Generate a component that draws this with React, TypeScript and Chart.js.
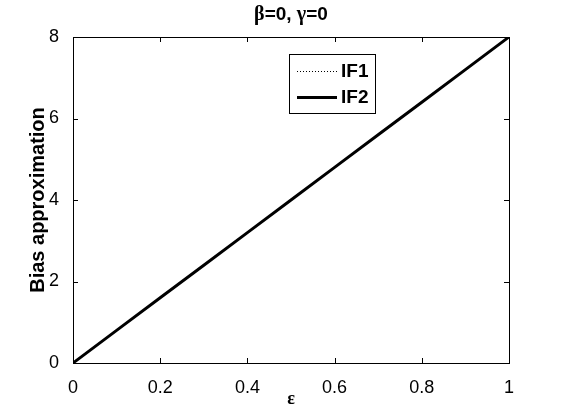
import { useEffect, useRef } from "react";
import { Chart, registerables } from "chart.js";
Chart.register(...registerables);

const epsilon = [0, 0.1, 0.2, 0.3, 0.4, 0.5, 0.6, 0.7, 0.8, 0.9, 1];
const if1 = [0, 0.8, 1.6, 2.4, 3.2, 4.0, 4.8, 5.6, 6.4, 7.2, 8.0];
const if2 = [0, 0.8, 1.6, 2.4, 3.2, 4.0, 4.8, 5.6, 6.4, 7.2, 8.0];
const xTicks = [0, 0.2, 0.4, 0.6, 0.8, 1];
const yTicks = [0, 2, 4, 6, 8];
const seriesNames = ["IF1", "IF2"];
const titleParts = [
  { t: "\u03b2", serif: true },
  { t: "=0, ", serif: false },
  { t: "\u03b3", serif: true },
  { t: "=0", serif: false },
];
const xTitle = "\u03b5";
const yTitle = "Bias approximation";

const SANS = "'Liberation Sans', Arial, sans-serif";
const SERIF = "'Liberation Serif', 'Times New Roman', serif";

const decorPlugin = {
  id: "decor",
  afterDraw(chart: any) {
    const { ctx, chartArea: a } = chart;
    const xs = chart.scales.x;
    const ys = chart.scales.y;
    ctx.save();
    ctx.strokeStyle = "#000";
    ctx.lineWidth = 1;
    // box
    ctx.strokeRect(Math.round(a.left) + 0.5, Math.round(a.top) + 0.5, Math.round(a.right - a.left), Math.round(a.bottom - a.top));
    // ticks
    const tl = 5;
    ctx.beginPath();
    xTicks.forEach((v) => {
      const px = Math.round(xs.getPixelForValue(v)) + 0.5;
      ctx.moveTo(px, a.bottom);
      ctx.lineTo(px, a.bottom - tl);
      ctx.moveTo(px, a.top);
      ctx.lineTo(px, a.top + tl);
    });
    yTicks.forEach((v) => {
      const py = Math.round(ys.getPixelForValue(v)) + 0.5;
      ctx.moveTo(a.left, py);
      ctx.lineTo(a.left + tl, py);
      ctx.moveTo(a.right, py);
      ctx.lineTo(a.right - tl, py);
    });
    ctx.stroke();

    // title
    const tFontSans = `bold 19px ${SANS}`;
    const tFontSerif = `bold 20px ${SERIF}`;
    let total = 0;
    titleParts.forEach((p) => {
      ctx.font = p.serif ? tFontSerif : tFontSans;
      total += ctx.measureText(p.t).width;
    });
    let tx = (a.left + a.right) / 2 - total / 2;
    ctx.fillStyle = "#000";
    ctx.textBaseline = "alphabetic";
    ctx.textAlign = "left";
    titleParts.forEach((p) => {
      ctx.font = p.serif ? tFontSerif : tFontSans;
      ctx.fillText(p.t, tx, 20);
      tx += ctx.measureText(p.t).width;
    });

    // legend
    const lx = 289.5, ly = 54.5, lw = 86, lh = 59;
    ctx.fillStyle = "#fff";
    ctx.fillRect(lx, ly, lw, lh);
    ctx.strokeRect(lx, ly, lw, lh);
    const rows = [71, 97];
    chart.data.datasets.forEach((ds: any, i: number) => {
      const y = rows[i];
      ctx.beginPath();
      ctx.strokeStyle = "#000";
      ctx.lineWidth = ds.borderWidth;
      ctx.setLineDash(ds.borderDash || []);
      ctx.moveTo(297, y + 0.5);
      ctx.lineTo(337, y + 0.5);
      ctx.stroke();
      ctx.setLineDash([]);
      ctx.fillStyle = "#000";
      ctx.font = `bold 19px ${SANS}`;
      ctx.textBaseline = "middle";
      ctx.fillText(ds.label, 341, y + 1);
    });
    ctx.restore();
  },
};

export default function App() {
  const ref = useRef<HTMLCanvasElement | null>(null);
  useEffect(() => {
    if (!ref.current) return;
    const chart = new Chart(ref.current, {
      type: "line",
      data: {
        datasets: [
          {
            label: seriesNames[0],
            data: epsilon.map((e, i) => ({ x: e, y: if1[i] })),
            borderColor: "#000",
            borderWidth: 1,
            borderDash: [1, 2],
            pointRadius: 0,
            fill: false,
            order: 1,
          },
          {
            label: seriesNames[1],
            data: epsilon.map((e, i) => ({ x: e, y: if2[i] })),
            borderColor: "#000",
            borderWidth: 3,
            pointRadius: 0,
            fill: false,
            order: 0,
          },
        ],
      },
      options: {
        animation: false,
        responsive: false,
        devicePixelRatio: 1,
        layout: { padding: { top: 37, right: 52, left: 0, bottom: 0 } },
        plugins: { legend: { display: false }, tooltip: { enabled: false }, title: { display: false } },
        scales: {
          x: {
            type: "linear",
            min: 0,
            max: 1,
            grid: { display: false },
            border: { display: false },
            afterBuildTicks: (s: any) => {
              s.ticks = xTicks.map((v) => ({ value: v }));
            },
            afterFit: (s: any) => {
              s.height = 51;
            },
            ticks: {
              color: "#000",
              font: { family: SANS, size: 18 },
              padding: 6,
              maxRotation: 0,
              autoSkip: false,
              callback: (v: any) => String(v),
            },
            title: {
              display: true,
              text: xTitle,
              color: "#000",
              font: { family: SERIF, size: 18, weight: "bold" },
              padding: { top: 0, bottom: 4 },
            },
          },
          y: {
            type: "linear",
            min: 0,
            max: 8,
            grid: { display: false },
            border: { display: false },
            afterBuildTicks: (s: any) => {
              s.ticks = yTicks.map((v) => ({ value: v }));
            },
            afterFit: (s: any) => {
              s.width = 73;
            },
            ticks: {
              color: "#000",
              font: { family: SANS, size: 18 },
              padding: 6,
              autoSkip: false,
              callback: (v: any) => String(v),
            },
            title: {
              display: true,
              text: yTitle,
              color: "#000",
              font: { family: SANS, size: 20, weight: "bold" },
              padding: { top: 26, bottom: 0 },
            },
          },
        },
      },
      plugins: [decorPlugin],
    } as any);
    return () => chart.destroy();
  }, []);
  return (
    <div style={{ position: "absolute", left: 0, top: 0, width: 561, height: 414, background: "#fff" }}>
      <canvas ref={ref} width={561} height={414} style={{ display: "block", width: 561, height: 414 }} />
    </div>
  );
}
